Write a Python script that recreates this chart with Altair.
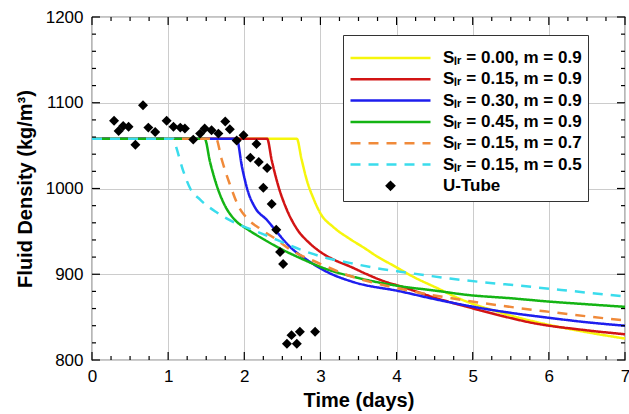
import altair as alt
import pandas as pd

# ---------------- data ----------------
labels = ["Sₗᵣ = 0.00, m = 0.9", "Sₗᵣ = 0.15, m = 0.9", "Sₗᵣ = 0.30, m = 0.9",
          "Sₗᵣ = 0.45, m = 0.9", "Sₗᵣ = 0.15, m = 0.7", "Sₗᵣ = 0.15, m = 0.5", "U-Tube"]
colors = ["#F6F60C", "#D21414", "#1E1EEE", "#14B414", "#F08A3A", "#3ADCEC", "#000000"]

yellow_x = [0, 2.69, 2.75, 2.82, 2.91, 3.0, 3.17, 3.39, 3.57, 3.74, 3.96, 4.22, 4.53, 4.84, 5.3, 5.8, 6.4, 7.0]
yellow_y = [1058, 1058, 1035, 1010, 988, 971, 955, 941, 931, 921, 910, 897, 884, 871, 857, 845, 834, 825]

red_x = [0, 2.30, 2.36, 2.45, 2.56, 2.69, 2.86, 3.0, 3.2, 3.39, 3.61, 3.83, 4.05, 4.49, 5.01, 5.4, 5.8, 6.46, 7.0]
red_y = [1058, 1058, 1033, 1002, 975, 953, 936, 926, 916, 909, 900, 892, 886, 873, 860, 851, 843, 835, 830]

blue_x = [0, 1.90, 1.97, 2.05, 2.14, 2.30, 2.43, 2.60, 2.82, 3.08, 3.43, 4.05, 4.5, 5.01, 5.5, 6.02, 6.5, 7.0]
blue_y = [1058, 1058, 1025, 996, 978, 963, 949, 932, 917, 903, 891, 880, 871, 862, 855, 849, 844, 840]

green_x = [0, 1.48, 1.55, 1.64, 1.74, 1.87, 2.05, 2.27, 2.45, 2.73, 3.08, 3.48, 4.05, 4.5, 4.92, 5.5, 6.02, 6.5, 7.0]
green_y = [1058, 1058, 1031, 1003, 981, 964, 952, 940, 931, 919, 906, 896, 886, 881, 876, 872, 868, 865, 862]

orange_x = [0, 1.63, 1.70, 1.81, 1.92, 2.05, 2.21, 2.43, 2.60, 2.95, 3.39, 4.05, 5.01, 6.02, 7.0]
orange_y = [1058, 1058, 1035, 1005, 980, 964, 953, 940, 929, 914, 898, 883, 868, 856, 846]

cyan_x = [0, 1.07, 1.11, 1.20, 1.29, 1.42, 1.64, 1.90, 2.16, 2.43, 2.73, 3.08, 3.40, 3.74, 4.05, 4.7, 5.8, 7.0]
cyan_y = [1058, 1058, 1047, 1020, 1000, 987, 972, 959, 950, 940, 929, 919, 913, 907, 903, 895, 885, 874]

utube_x = [0.29, 0.35, 0.41, 0.48, 0.57, 0.67, 0.74, 0.83, 0.98, 1.07, 1.16, 1.22, 1.33, 1.42, 1.48,
           1.57, 1.66, 1.75, 1.81, 1.90, 1.99, 2.08, 2.16, 2.19, 2.25, 2.30, 2.36, 2.42, 2.47, 2.51,
           2.56, 2.62, 2.69, 2.73, 2.93]
utube_y = [1079, 1067, 1073, 1072, 1051, 1097, 1071, 1066, 1079, 1072, 1071, 1070, 1057, 1064, 1070,
           1068, 1064, 1078, 1069, 1056, 1062, 1036, 1052, 1031, 1001, 1024, 982, 952, 926, 912,
           819, 829, 819, 833, 833]

x_major = [0, 1, 2, 3, 4, 5, 6, 7]
x_minor = [i * 0.25 for i in range(29) if i % 4 != 0]
y_major = [800, 900, 1000, 1100, 1200]
y_minor = [800 + 20 * i for i in range(21) if i % 5 != 0]

# ---------------- tables ----------------
series_xy = [(yellow_x, yellow_y), (red_x, red_y), (blue_x, blue_y),
             (green_x, green_y), (orange_x, orange_y), (cyan_x, cyan_y)]
rows = []
for lab, (xs, ys) in zip(labels[:6], series_xy):
    for xv, yv in zip(xs, ys):
        rows.append({"series": lab, "day": xv, "density": yv})
df_lines = pd.DataFrame(rows)
df_pts = pd.DataFrame({"day": utube_x, "density": utube_y, "series": ["U-Tube"] * len(utube_x)})

W, H = 533, 343
FONT = "Liberation Sans"
DIAMOND = "M-0.09,0L0,-0.09L0.09,0L0,0.09Z"
TICK_COLOR = "#000000"

xscale = alt.Scale(domain=[0, 7], nice=False, zero=False)
yscale = alt.Scale(domain=[800, 1200], nice=False, zero=False)

legend = alt.Legend(
    orient="none", legendX=251, legendY=18,
    title=" ", titleFontSize=8, titlePadding=0,
    labelFont=FONT, labelFontSize=17, labelFontWeight="bold", labelColor="black",
    labelOffset=11, labelLimit=400,
    symbolType="stroke", symbolSize=6400, symbolStrokeWidth=2.5,
    clipHeight=18, rowPadding=3.3, padding=6,
    fillColor="white", strokeColor="#333333",
)

main_x_axis = alt.Axis(orient="bottom", values=x_major, format="d", title="Time (days)",
                       labelFont=FONT, labelFontSize=17, labelColor="black", labelFlush=False,
                       titleFont=FONT, titleFontSize=20, titleFontWeight="bold", titleColor="black",
                       ticks=False, tickSize=0, domain=False, grid=True, gridColor="#cccccc",
                       gridWidth=1, labelPadding=8, titlePadding=6)
main_y_axis = alt.Axis(orient="left", values=y_major, format="d", title="Fluid Density (kg/m³)",
                       labelFont=FONT, labelFontSize=17, labelColor="black", labelFlush=False,
                       titleFont=FONT, titleFontSize=20, titleFontWeight="bold", titleColor="black",
                       ticks=False, tickSize=0, domain=False, grid=True, gridColor="#cccccc",
                       gridWidth=1, labelPadding=9, titlePadding=10)


def x_ticks(values, length):
    df = pd.DataFrame({"tx": values})
    out = []
    for y0, y1 in [(H, H - length), (0, length)]:
        out.append(alt.Chart(df).mark_rule(color=TICK_COLOR, strokeWidth=1.2).encode(
            x=alt.X("tx:Q", scale=xscale), y=alt.value(y0), y2=alt.value(y1)))
    return out


def y_ticks(values, length):
    df = pd.DataFrame({"ty": values})
    out = []
    for x0, x1 in [(0, length), (W, W - length)]:
        out.append(alt.Chart(df).mark_rule(color=TICK_COLOR, strokeWidth=1.2).encode(
            y=alt.Y("ty:Q", scale=yscale), x=alt.value(x0), x2=alt.value(x1)))
    return out


tick_layers = x_ticks(x_major, 8) + x_ticks(x_minor, 4) + y_ticks(y_major, 8) + y_ticks(y_minor, 4)

lines = alt.Chart(df_lines).mark_line(strokeWidth=2.5, interpolate="monotone").encode(
    x=alt.X("day:Q", scale=xscale, axis=main_x_axis),
    y=alt.Y("density:Q", scale=yscale, axis=main_y_axis),
    color=alt.Color("series:N", scale=alt.Scale(domain=labels, range=colors), legend=legend),
    strokeDash=alt.StrokeDash("series:N", scale=alt.Scale(
        domain=labels, range=[[1, 0], [1, 0], [1, 0], [1, 0], [10, 8], [10, 8], [1, 0]]),
        legend=legend),
)

points = alt.Chart(df_pts).mark_point(filled=True, size=12300, color="black", opacity=1).encode(
    x=alt.X("day:Q", scale=xscale),
    y=alt.Y("density:Q", scale=yscale),
    shape=alt.Shape("series:N", scale=alt.Scale(domain=labels, range=["stroke"] * 6 + [DIAMOND]),
                    legend=legend),
)

chart = alt.layer(lines, points, *tick_layers).properties(
    width=W, height=H,
    padding={"left": 92, "top": 17, "right": 4, "bottom": 54},
    autosize=alt.AutoSizeParams(type="none"),
    background="white",
).configure_view(stroke="#111111", strokeWidth=1.2)

chart.save("out.html", embed_options={"renderer": "svg", "actions": False})
